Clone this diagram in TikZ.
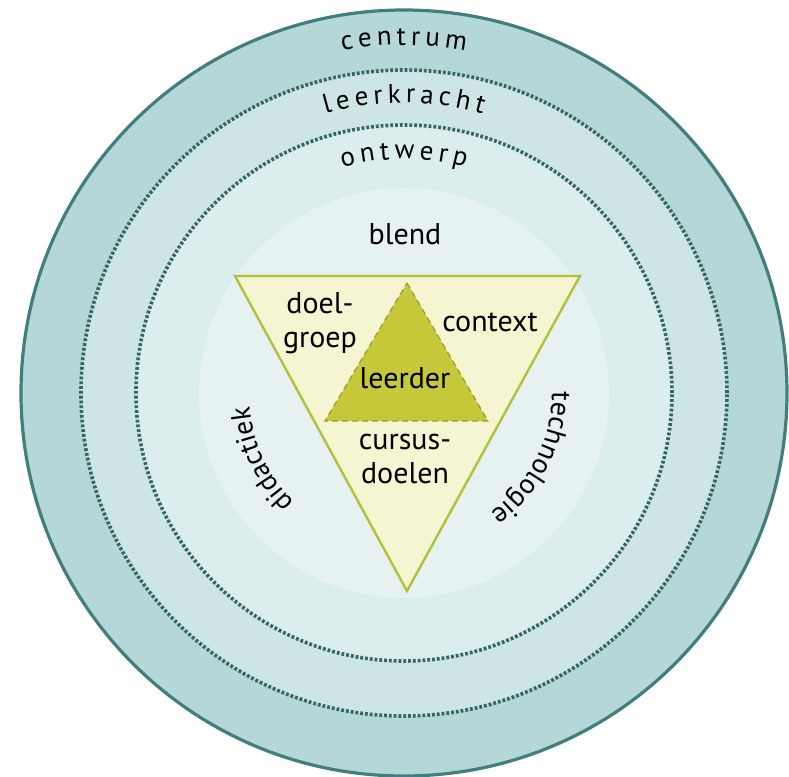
\documentclass[tikz,border=0pt]{standalone}
\usepackage{fontspec}
\setmainfont{PT Sans}
\usetikzlibrary{decorations.text}
\definecolor{rimc}{HTML}{427E7D}
\definecolor{dotc}{HTML}{336666}
\definecolor{ringa}{HTML}{B4D8D7}
\definecolor{ringb}{HTML}{CDE5E5}
\definecolor{ringc}{HTML}{DBEDED}
\definecolor{ringd}{HTML}{E6F1F2}
\definecolor{trifill}{HTML}{F6F5D2}
\definecolor{triline}{HTML}{B3C13A}
\definecolor{corefill}{HTML}{C6C83A}
\definecolor{coreline}{HTML}{989C2C}
\newcommand\ringsize{\fontsize{13.5}{15}\selectfont}
\tikzset{
	dotring/.style={draw=dotc,line width=1.8pt,dash pattern=on 1.4pt off 1pt},
	lbl/.style={font=\fontsize{15}{17}\selectfont,align=center,inner sep=0pt},
	arclabel/.style={decorate,decoration={text along path,text align=center,text={#1}}},
	ringlabel/.style={decorate,decoration={text effects along path,text={#1},text align=center,
		text effects/.cd,text along path,characters={font=\ringsize},
		character widths={inner xsep=1.2pt,font=\ringsize}}}
}
\begin{document}
\begin{tikzpicture}[x=.5pt,y=.5pt]
	\useasboundingbox(-404,-384)rectangle(385,393);
	\draw[fill=ringa,draw=rimc,line width=1.6pt](0,0)circle(383);
	\draw[fill=ringb,dotring](0,0)circle(323);
	\draw[fill=ringc,dotring](0,0)circle(268);
	\fill[ringd](0,0)circle(205);
	\path[ringlabel={centrum}](120:348)arc(120:60:348);
	\path[ringlabel={leerkracht}](120:290)arc(120:60:290);
	\path[ringlabel={ontwerp}](120:234)arc(120:60:234);
	\coordinate(tl)at(-169,117);
	\coordinate(tr)at(176,117);
	\coordinate(tb)at(3,-198);
	\coordinate(ct)at(3,110);
	\coordinate(cl)at(-79,-28);
	\coordinate(cr)at(84,-28);
	\draw[fill=trifill,draw=triline,line width=1.2pt](tl)--(tr)--(tb)--cycle;
	\draw[fill=corefill,draw=coreline,line width=.6pt,dash pattern=on 3pt off 2pt](ct)--(cr)--(cl)--cycle;
	\node[lbl](blend)at(1,159){blend};
	\node[lbl](doelgroep)at(-84,70){doel-\\groep};
	\node[lbl](context)at(86,71){context};
	\node[lbl](leerder)at(1,15){leerder};
	\node[lbl](cursus)at(1,-66){cursus-\\doelen};
	\path[arclabel={|\fontsize{14}{16}\selectfont|didactiek}](245:155)arc(245:165:155);
	\path[arclabel={|\fontsize{14}{16}\selectfont|technologie}](20:148)arc(20:-74:148);
\end{tikzpicture}
\end{document}
